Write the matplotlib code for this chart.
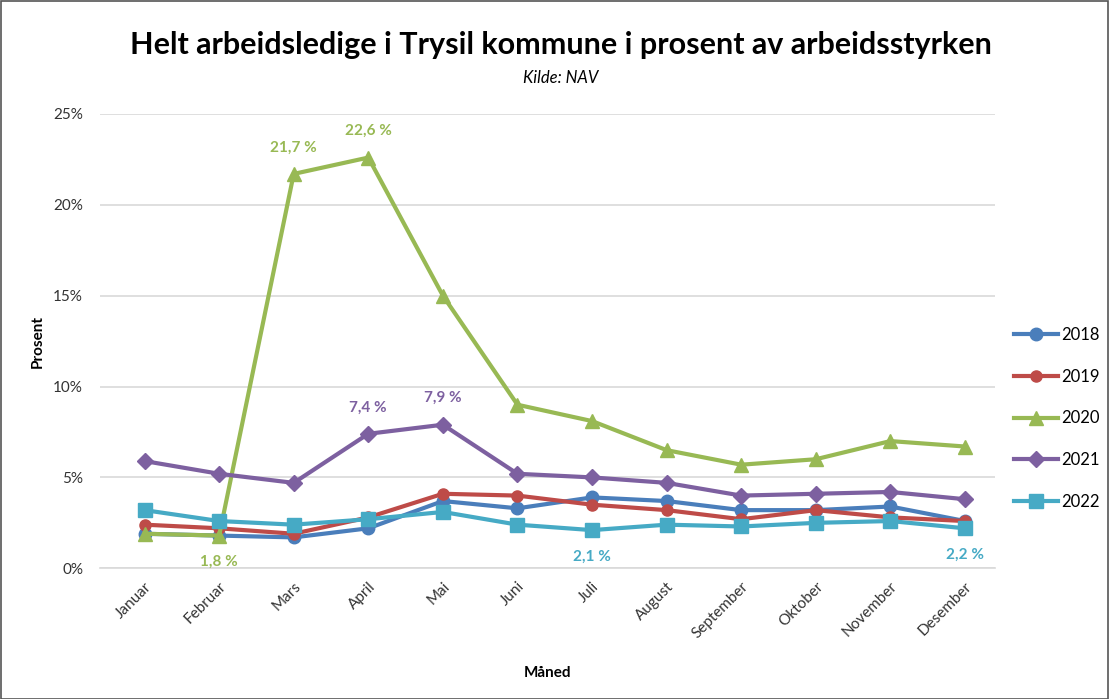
import matplotlib.pyplot as plt
from matplotlib.ticker import FuncFormatter

plt.rcParams['font.family'] = ['Lato', 'DejaVu Sans']

maaneder = ["Januar", "Februar", "Mars", "April", "Mai", "Juni", "Juli",
            "August", "September", "Oktober", "November", "Desember"]

# prosent helt ledige, lest av figuren
v2018 = [1.9, 1.8, 1.7, 2.2, 3.7, 3.3, 3.9, 3.7, 3.2, 3.2, 3.4, 2.6]
v2019 = [2.4, 2.2, 1.9, 2.8, 4.1, 4.0, 3.5, 3.2, 2.7, 3.2, 2.8, 2.6]
v2020 = [1.9, 1.8, 21.7, 22.6, 15.0, 9.0, 8.1, 6.5, 5.7, 6.0, 7.0, 6.7]
v2021 = [5.9, 5.2, 4.7, 7.4, 7.9, 5.2, 5.0, 4.7, 4.0, 4.1, 4.2, 3.8]
v2022 = [3.2, 2.6, 2.4, 2.7, 3.1, 2.4, 2.1, 2.4, 2.3, 2.5, 2.6, 2.2]

serier = [("2018", v2018, "#4A7EBB", "o", 9),
          ("2019", v2019, "#BE4B48", "o", 8),
          ("2020", v2020, "#98B954", "^", 10),
          ("2021", v2021, "#7D60A0", "D", 8),
          ("2022", v2022, "#46AAC5", "s", 10)]

fig = plt.figure(figsize=(11.09, 6.99), dpi=100)
ax = fig.add_axes([0.090, 0.187, 0.807, 0.650])

x = range(len(maaneder))
for navn, verdier, farge, mk, ms in serier:
    ax.plot(x, verdier, color=farge, marker=mk, markersize=ms, linewidth=3,
            label=navn, zorder=3)

# dataetiketter: (serie, maaned, over/under)
etiketter = [(v2020, 2, 1), (v2020, 3, 1), (v2020, 1, -1),
             (v2021, 3, 1), (v2021, 4, 1),
             (v2022, 6, -1), (v2022, 11, -1)]
farger = {id(v2020): "#98B954", id(v2021): "#7D60A0", id(v2022): "#46AAC5"}
for verdier, i, retning in etiketter:
    tekst = f"{verdier[i]:.1f} %".replace(".", ",")
    ax.annotate(tekst, (i, verdier[i]), xytext=(0, 14 * retning),
                textcoords="offset points", ha="center",
                va="bottom" if retning > 0 else "top",
                color=farger[id(verdier)], fontsize=11, fontweight="bold")

ax.set_ylim(0, 25)
ax.set_xlim(-0.6, 11.4)
ax.set_yticks([0, 5, 10, 15, 20, 25])
ax.yaxis.set_major_formatter(FuncFormatter(lambda v, p: f"{v:.0f}%"))
ax.set_xticks(list(x))
ax.set_xticklabels(maaneder, rotation=45, ha="right", rotation_mode="anchor")
ax.grid(axis="y", color="#D9D9D9", linewidth=1.2)
ax.set_axisbelow(True)
for s in ["top", "right", "left"]:
    ax.spines[s].set_visible(False)
ax.spines["bottom"].set_color("#D9D9D9")
ax.spines["bottom"].set_linewidth(1.2)
ax.tick_params(axis="both", length=0, labelsize=11, colors="#333333", pad=8)
ax.tick_params(axis="y", pad=12)

ax.set_ylabel("Prosent", fontsize=11, fontweight="bold")
ax.yaxis.set_label_coords(-0.062, 0.5)
ax.set_xlabel("Måned", fontsize=11, fontweight="bold")
ax.xaxis.set_label_coords(0.5, -0.215)

fig.text(0.506, 0.935, "Helt arbeidsledige i Trysil kommune i prosent av arbeidsstyrken",
         ha="center", va="center", fontsize=22, fontweight="bold")
fig.text(0.506, 0.888, "Kilde: NAV", ha="center", va="center",
         fontsize=12, style="italic")

ax.legend(loc="center left", bbox_to_anchor=(1.005, 0.33), frameon=False,
          fontsize=12, handlelength=2.6, labelspacing=1.55, handletextpad=0.2)

# ramme rundt figuren
fig.patches.append(plt.Rectangle((0.001, 0.0), 0.998, 0.998, transform=fig.transFigure,
                                 fill=False, edgecolor="#555555", linewidth=1.2))

fig.savefig("out.png", dpi=100)
